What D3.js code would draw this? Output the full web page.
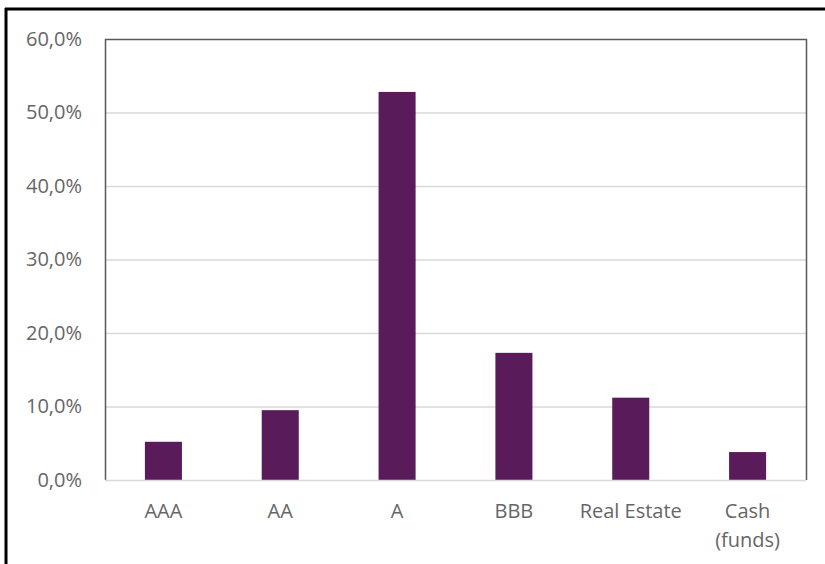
<!DOCTYPE html>
<html>
<head>
<meta charset="utf-8">
<script src="https://cdn.jsdelivr.net/npm/d3@7"></script>
<style>
    body { margin: 0; background: #fff; }
    svg { display: block; font-family: "Open Sans", "Noto Sans", sans-serif; }
</style>
</head>
<body>
<div id="chart"></div>
<script>
"use strict";

const categories = ["AAA", "AA", "A", "BBB", "Real Estate", "Cash\n(funds)"];
const shares = [5.2, 9.5, 52.8, 17.3, 11.2, 3.8];
const yTicks = [0, 10, 20, 30, 40, 50, 60];

const BAR_FILL = "#5A1B5B";
const TEXT_FILL = "#666666";
const FONT_SIZE = "20px";

function buildChart() {
    const width = 825, height = 564;
    const plot = {left: 105, top: 39, right: 806, bottom: 480};

    const svg = d3.select("#chart").append("svg")
        .attr("width", width)
        .attr("height", height);

    // outer frame (only top and left edges are visible)
    svg.append("line").attr("x1", 5).attr("x2", width).attr("y1", 9).attr("y2", 9)
        .attr("stroke", "#000").attr("stroke-width", 3);
    svg.append("line").attr("x1", 6).attr("x2", 6).attr("y1", 8).attr("y2", height)
        .attr("stroke", "#000").attr("stroke-width", 3);

    const x = d3.scaleBand()
        .domain(categories)
        .range([plot.left, plot.right])
        .paddingInner(0.683)
        .paddingOuter(0.3415);
    const y = d3.scaleLinear()
        .domain([0, 60])
        .range([plot.bottom, plot.top]);

    // gridlines
    svg.append("g")
        .selectAll("line")
        .data(yTicks.filter(function (t) { return t > 0 && t < 60; }))
        .enter()
        .append("line")
        .attr("x1", plot.left).attr("x2", plot.right)
        .attr("y1", function (d) { return y(d) + 0.5; })
        .attr("y2", function (d) { return y(d) + 0.5; })
        .attr("stroke", "#D9D9D9").attr("stroke-width", 1.5);

    // plot area border (top, left, right)
    svg.append("path")
        .attr("d", "M" + (plot.left + 0.5) + "," + plot.bottom +
            "V" + (plot.top + 0.5) + "H" + (plot.right + 0.5) + "V" + plot.bottom)
        .attr("fill", "none")
        .attr("stroke", "#595959").attr("stroke-width", 1.5);

    // bars
    svg.append("g")
        .selectAll("rect")
        .data(shares)
        .enter()
        .append("rect")
        .attr("x", function (d, i) { return x(categories[i]); })
        .attr("width", x.bandwidth())
        .attr("y", function (d) { return y(d); })
        .attr("height", function (d) { return y(0) - y(d); })
        .attr("fill", BAR_FILL);

    // baseline
    svg.append("line")
        .attr("x1", plot.left).attr("x2", plot.right)
        .attr("y1", plot.bottom + 0.5).attr("y2", plot.bottom + 0.5)
        .attr("stroke", "#D9D9D9").attr("stroke-width", 1.5);

    // y axis labels
    const fmt = function (v) { return v.toFixed(1).replace(".", ",") + "%"; };
    const yAxis = d3.axisLeft(y).tickValues(yTicks).tickFormat(fmt).tickSize(0).tickPadding(23);
    const gy = svg.append("g")
        .attr("transform", "translate(" + plot.left + ",0)")
        .call(yAxis);
    gy.select(".domain").remove();
    gy.selectAll("text")
        .attr("fill", TEXT_FILL)
        .style("font-size", FONT_SIZE)
        .style("font-family", "\"Open Sans\", sans-serif");

    // category labels
    const gx = svg.append("g")
        .selectAll("text")
        .data(categories)
        .enter()
        .append("text")
        .attr("x", function (d) { return x(d) + x.bandwidth() / 2; })
        .attr("y", 518)
        .attr("text-anchor", "middle")
        .attr("fill", TEXT_FILL)
        .style("font-size", FONT_SIZE);
    gx.each(function (d) {
        const lines = d.split("\n");
        const t = d3.select(this);
        lines.forEach(function (line, i) {
            t.append("tspan")
                .attr("x", t.attr("x"))
                .attr("dy", i === 0 ? 0 : 29)
                .text(line);
        });
    });
}

buildChart();
</script>
</body>
</html>
